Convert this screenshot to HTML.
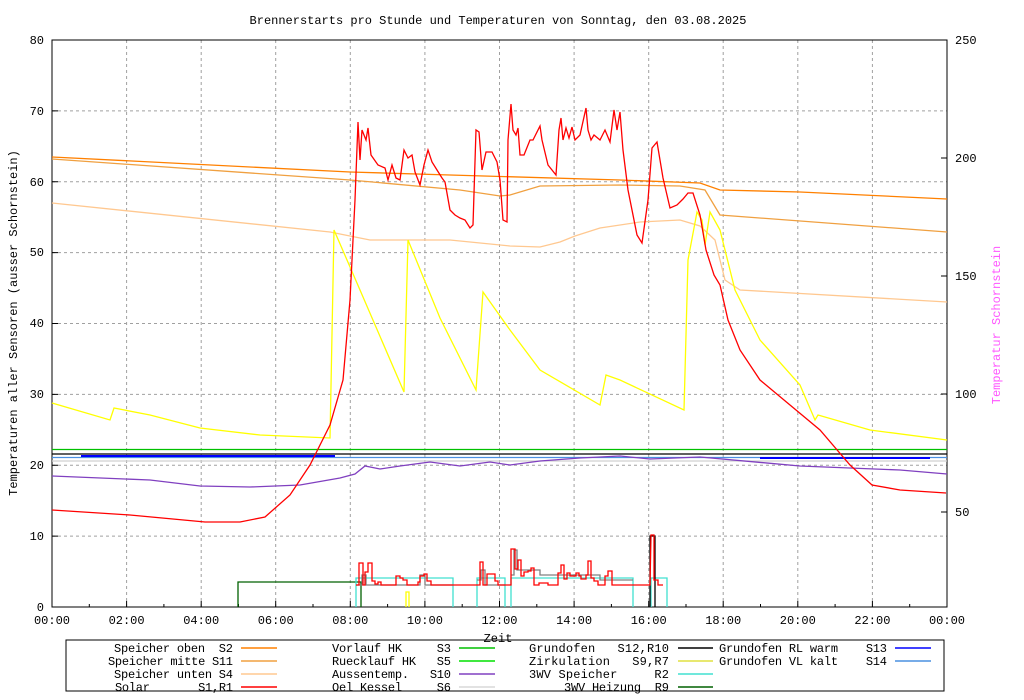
<!DOCTYPE html><html><head><style>body{margin:0;background:#fff}svg{display:block}text{font-family:"Liberation Mono",monospace;font-size:12px;fill:#000}.lg text{white-space:pre}</style></head><body>
<svg width="1024" height="700" xmlns="http://www.w3.org/2000/svg">
<text x="498" y="24" text-anchor="middle">Brennerstarts pro Stunde und Temperaturen von Sonntag, den 03.08.2025</text>
<g stroke="#a0a0a0" stroke-dasharray="3,3" stroke-width="1">
<path d="M126.6 40V607M201.2 40V607M275.7 40V607M350.3 40V607M424.9 40V607M499.5 40V607M574.1 40V607M648.7 40V607M723.2 40V607M797.8 40V607M872.4 40V607"/>
<path d="M52 536.1H947M52 465.3H947M52 394.4H947M52 323.5H947M52 252.6H947M52 181.8H947M52 110.9H947"/>
</g>
<rect x="52" y="40" width="895" height="567" fill="none" stroke="#000"/>
<g stroke="#000">
<path d="M52 607v-6M126.6 607v-6M201.2 607v-6M275.7 607v-6M350.3 607v-6M424.9 607v-6M499.5 607v-6M574.1 607v-6M648.7 607v-6M723.2 607v-6M797.8 607v-6M872.4 607v-6M89.3 607v-3M163.9 607v-3M238.5 607v-3M313 607v-3M387.6 607v-3M462.2 607v-3M536.8 607v-3M611.4 607v-3M686 607v-3M760.5 607v-3M835.1 607v-3M909.7 607v-3"/>
<path d="M52 536.1h6M52 465.3h6M52 394.4h6M52 323.5h6M52 252.6h6M52 181.8h6M52 110.9h6M947 512h-6M947 394h-6M947 276h-6M947 158h-6"/>
</g>
<g text-anchor="end"><text x="44" y="611">0</text><text x="44" y="540">10</text><text x="44" y="469">20</text><text x="44" y="398">30</text><text x="44" y="327">40</text><text x="44" y="256">50</text><text x="44" y="186">60</text><text x="44" y="115">70</text><text x="44" y="44">80</text></g>
<g><text x="955" y="516">50</text><text x="955" y="398">100</text><text x="955" y="280">150</text><text x="955" y="162">200</text><text x="955" y="44">250</text></g>
<g text-anchor="middle"><text x="52" y="624">00:00</text><text x="126.6" y="624">02:00</text><text x="201.2" y="624">04:00</text><text x="275.7" y="624">06:00</text><text x="350.3" y="624">08:00</text><text x="424.9" y="624">10:00</text><text x="499.5" y="624">12:00</text><text x="574.1" y="624">14:00</text><text x="648.7" y="624">16:00</text><text x="723.2" y="624">18:00</text><text x="797.8" y="624">20:00</text><text x="872.4" y="624">22:00</text><text x="947" y="624">00:00</text></g>
<text transform="translate(17,323) rotate(-90)" text-anchor="middle">Temperaturen aller Sensoren (ausser Schornstein)</text>
<text transform="translate(1000,325) rotate(-90)" text-anchor="middle" style="fill:#ff55ff">Temperatur Schornstein</text>
<g fill="none" stroke-width="1.3">
<path stroke="#d0d0d0" d="M52 461H947"/>
<path stroke="#00c000" d="M52 449.5H947"/>
<path stroke="#000" d="M52 454H947"/>
<path stroke="#4a90e0" d="M52 457.5H947"/>
<path stroke="#0000ff" stroke-width="2" d="M81 456H335M760 458H930"/>
<polyline stroke="#ff8000" points="52,157 350,172 450,175 620,180 700,183 720,190 800,192 947,199"/>
<polyline stroke="#f0a040" points="52,159 350,180 460,190 500,196 510,195 540,186 620,185 680,186 705,190 720,215 947,232"/>
<polyline stroke="#ffc890" points="52,203 330,232 370,240 450,240 510,246 540,247 560,242 575,236 600,228 640,222 680,220 700,226 715,240 725,280 740,290 947,302"/>
<polyline stroke="#ffff00" points="52,403 110,420 114,408 150,415 200,428 260,435 330,438 334,230 360,290 404,392 408,240 440,318 476,390 483,292 510,330 540,370 600,405 606,375 620,380 684,410 688,260 697,212 702,220 705,245 710,212 720,230 735,290 760,340 800,385 815,420 818,415 870,430 947,440"/>
<polyline stroke="#8040c0" points="52,476 150,480 200,486 250,487 300,485 340,478 355,474 365,466 380,469 400,466 430,462 460,466 490,462 510,465 540,461 580,458 620,456 650,459 700,457 800,466 900,470 947,474"/>
<polyline stroke="#ff0000" points="52,510 130,515 205,522 240,522 265,517 290,495 310,465 330,425 343,380 350,300 355,200 358,122 360,160 362,130 366,140 368,128 371,155 378,165 385,168 388,180 392,165 396,178 400,180 404,150 408,158 412,155 415,172 420,185 424,165 428,150 432,162 437,170 442,178 445,182 450,210 455,215 460,218 465,220 470,228 473,225 476,130 479,132 482,170 486,152 492,152 497,162 500,180 503,220 507,222 508,140 511,104 513,130 516,135 518,128 520,155 524,155 530,140 533,140 540,126 542,140 548,165 556,175 559,130 561,118 563,140 566,128 569,138 572,127 575,140 580,135 586,108 588,130 591,140 594,135 600,140 605,130 610,142 614,110 617,130 620,112 623,150 628,190 637,235 642,243 648,200 652,148 657,142 663,178 670,208 677,205 683,199 688,193 693,193 700,215 706,250 714,275 720,285 728,320 740,350 760,380 790,405 820,430 850,465 872,485 900,490 946,493"/>
<path stroke="#006000" d="M238 607V582H361V607"/>
<path stroke="#40e0d0" d="M356 607V578H453V607M477 607V578H505V607M511 607V578H633V607M651 607V578H667V607"/>
<path stroke="#ffff00" d="M406 607V592H409V607"/>
<path stroke="#000" d="M650 607V536H655V607"/>
<path stroke="#808080" d="M356 585H362V575H366V585H420V575H425V585H453M477 580H481V570H485V585H505M511 575H514V550H517V570H540V575H600V580H633"/>
<polyline stroke="#ff0000" points="356,585 359,585 359,563 363,563 363,585 365,585 365,572 368,572 368,563 372,563 372,581 375,581 375,584 378,584 378,582 381,582 381,585 396,585 396,576 400,576 400,578 403,578 403,580 407,580 407,585 418,585 418,582 420,582 420,576 424,576 424,574 427,574 427,581 431,581 431,585 452,585 477,585 480,585 480,562 483,562 483,585 487,585 487,574 495,574 495,581 498,581 498,585 511,585 511,549 515,549 515,569 518,569 518,560 521,560 521,576 524,576 524,572 528,572 528,571 531,571 531,568 534,568 534,585 539,585 539,583 548,583 548,585 558,585 558,573 561,573 561,565 564,565 564,579 567,579 567,573 570,573 570,576 576,576 576,573 579,573 579,576 581,576 581,579 586,579 586,575 588,575 588,561 591,561 591,578 594,578 594,581 598,581 598,585 605,585 605,576 608,576 608,571 612,571 612,585 616,585 650,585 651,535 654,535 654,580 658,580 658,585 663,585"/>
</g>
<rect x="66" y="640" width="878" height="51" fill="#fff" stroke="#000"/>
<text x="498" y="642" text-anchor="middle">Zeit</text>
<g class="lg">
<text x="114" y="652" textLength="119">Speicher oben  S2</text>
<text x="108" y="665" textLength="125">Speicher mitte S11</text>
<text x="114" y="678" textLength="119">Speicher unten S4</text>
<text x="115" y="691" textLength="118">Solar       S1,R1</text>
<text x="332" y="652" textLength="119">Vorlauf HK     S3</text>
<text x="332" y="665" textLength="119">Ruecklauf HK   S5</text>
<text x="332" y="678" textLength="119">Aussentemp.   S10</text>
<text x="332" y="691" textLength="119">Oel Kessel     S6</text>
<text x="529" y="652" textLength="140">Grundofen   S12,R10</text>
<text x="529" y="665" textLength="140">Zirkulation   S9,R7</text>
<text x="529" y="678" textLength="140">3WV Speicher     R2</text>
<text x="564" y="691" textLength="105">3WV Heizung  R9</text>
<text x="719" y="652" textLength="168">Grundofen RL warm    S13</text>
<text x="719" y="665" textLength="168">Grundofen VL kalt    S14</text>
</g>
<g stroke-width="1.5">
<path stroke="#ff8000" d="M241 648h36"/><path stroke="#f0a040" d="M241 661h36"/><path stroke="#ffc890" d="M241 674h36"/><path stroke="#ff0000" d="M241 687h36"/>
<path stroke="#00c000" d="M459 648h36"/><path stroke="#00e000" d="M459 661h36"/><path stroke="#8040c0" d="M459 674h36"/><path stroke="#d8d8d8" d="M459 687h36"/>
<path stroke="#000" d="M678 648h35"/><path stroke="#e0e040" d="M678 661h35"/><path stroke="#40e0d0" d="M678 674h35"/><path stroke="#006000" d="M678 687h35"/>
<path stroke="#0000ff" d="M895 648h36"/><path stroke="#4a90e0" d="M895 661h36"/>
</g>
</svg></body></html>
